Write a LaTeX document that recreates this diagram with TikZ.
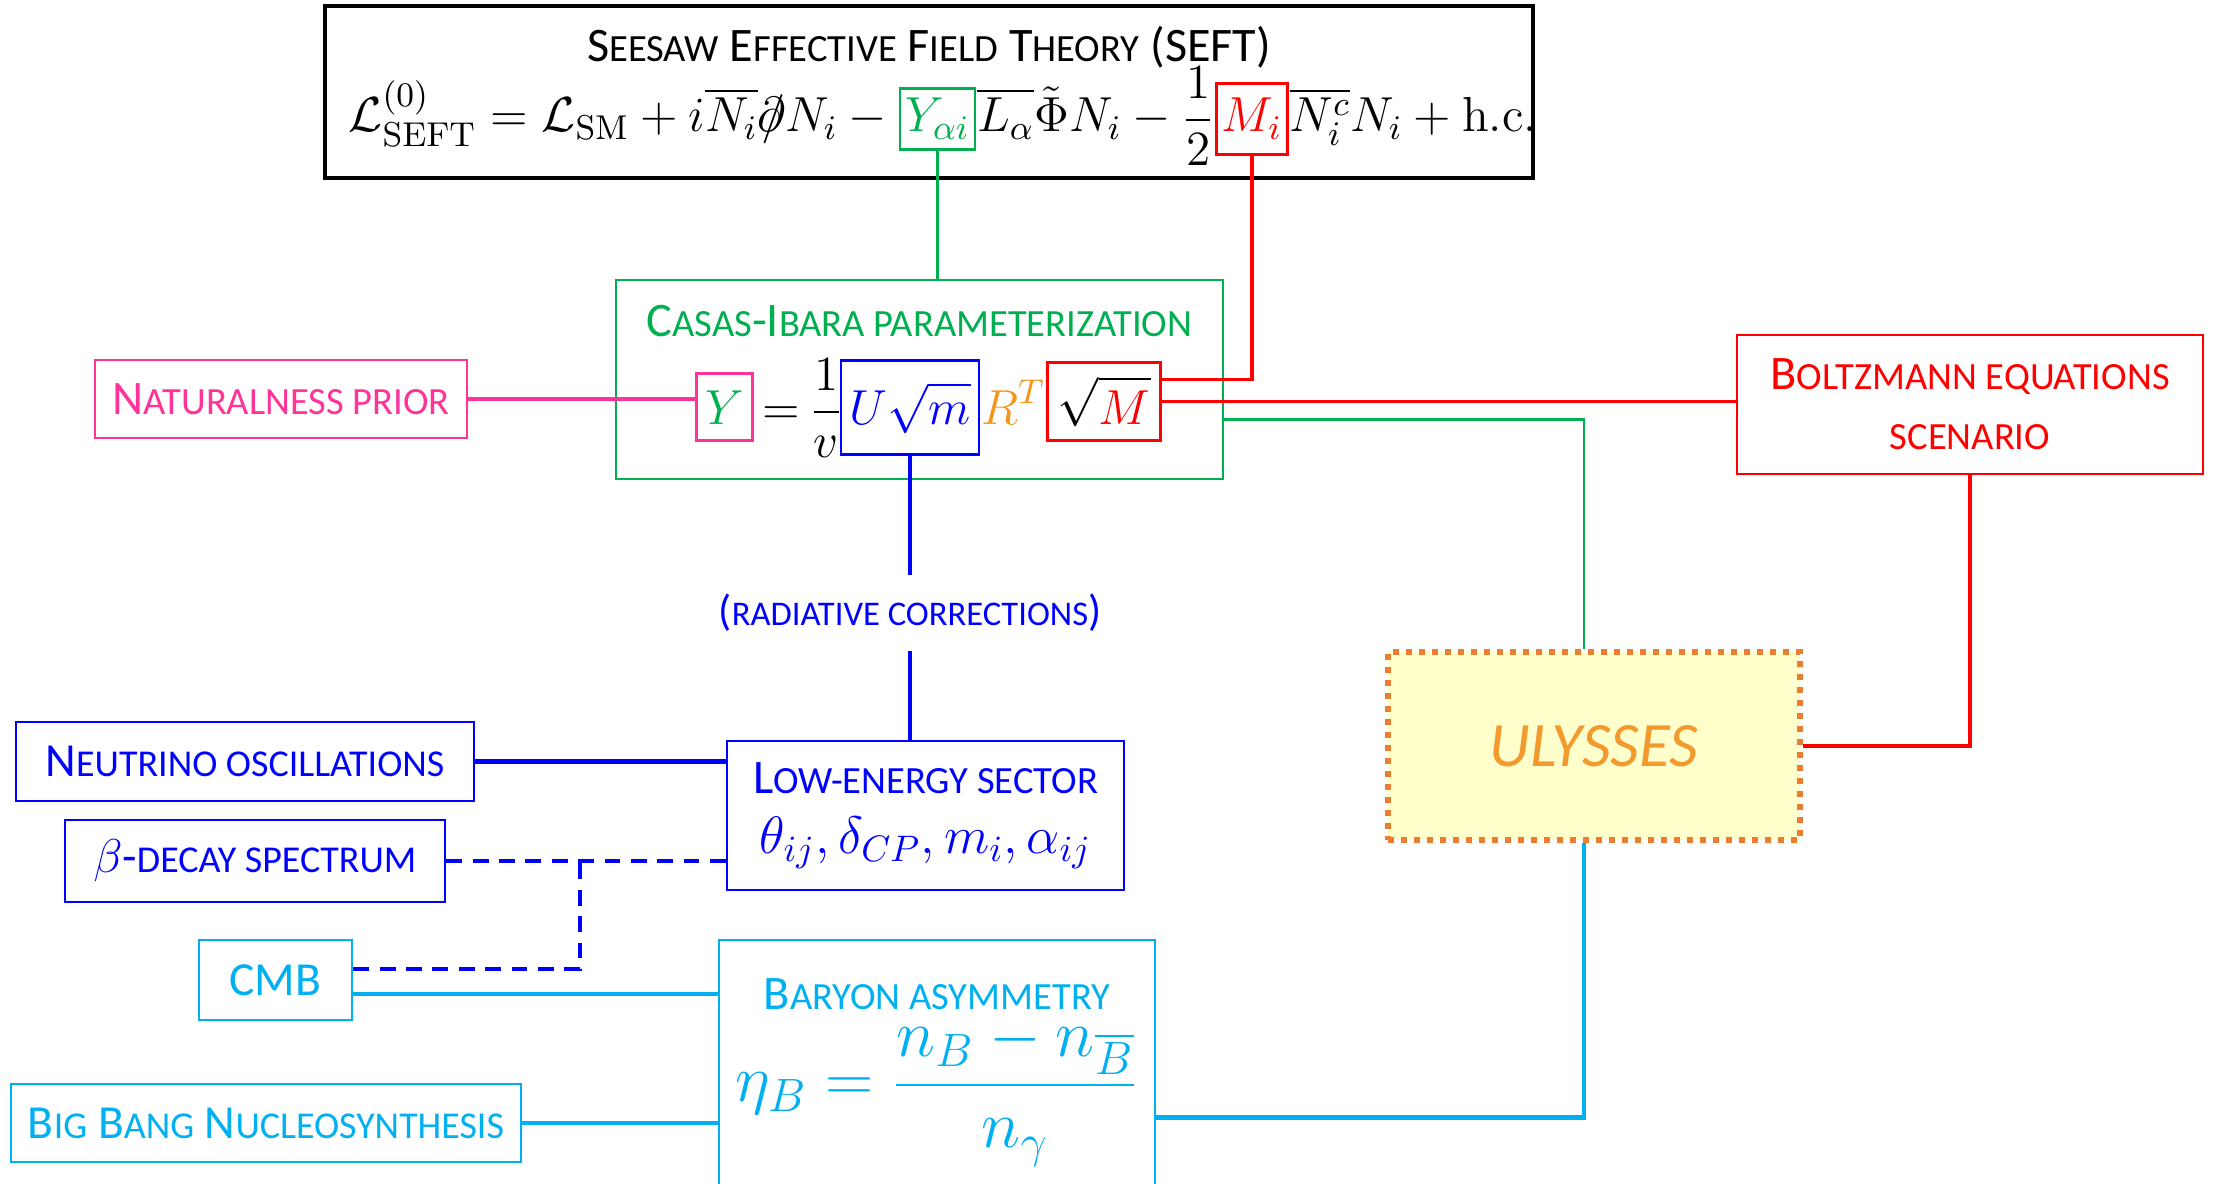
\RequirePackage{fix-cm}
\documentclass[tikz,border=0pt]{standalone}
\usepackage{amsmath,amssymb}
\usepackage[no-math]{fontspec}
\setmainfont{Carlito}
\usetikzlibrary{positioning,calc}
\definecolor{seftgreen}{HTML}{00B050}
\definecolor{seftred}{HTML}{FF0000}
\definecolor{seftblue}{HTML}{0000FF}
\definecolor{seftcyan}{HTML}{00B0F0}
\definecolor{seftpink}{HTML}{FF3399}
\definecolor{seftorange}{HTML}{F7941D}
\definecolor{ulyline}{HTML}{ED7D31}
\definecolor{ulytext}{HTML}{F29A2E}
\definecolor{ulyfill}{HTML}{FFFFCC}
\makeatletter
\newcommand{\smc}[1]{{\dimen@=\f@size pt\dimen@=0.8\dimen@
  \fontsize{\strip@pt\dimen@}{\f@baselineskip}\selectfont\MakeUppercase{#1}}}
\makeatother
\newcommand{\dslash}{{\partial\!\!\!/}}
\tikzset{
  framebox/.style={draw=#1,text=#1,line width=0.8pt,fill=white,
                   align=center,inner sep=3pt,font=\fontsize{13.7}{17}\selectfont},
  headtext/.style={align=center,inner sep=0pt,font=\fontsize{13.7}{17}\selectfont},
  formula/.style={inner sep=0pt,anchor=base west,font=\fontsize{14}{17}\selectfont},
  mathbox/.style={draw=#1,text=#1,line width=0.8pt,inner sep=1.5pt,anchor=base west},
  ulybox/.style={draw=ulyline,fill=ulyfill,text=ulytext,line width=1.7pt,
                 dash pattern=on 1.7pt off 2pt,
                 font=\fontsize{18}{22}\selectfont\itshape},
  link/.style={draw=#1,line width=1pt},
  dashlink/.style={draw=seftblue,line width=1.1pt,dash pattern=on 4.5pt off 3pt}
}
\begin{document}
\begin{tikzpicture}[x=1cm,y=1cm]
  \useasboundingbox (0,0) rectangle (22.14,-11.84);
  \node[framebox=black,line width=0.9pt,minimum width=12.08cm,minimum height=1.72cm] (seft) at (9.29,-0.92) {};
  \node[headtext] (sefttitle) at (9.29,-0.47) {S\smc{eesaw} E\smc{ffective} F\smc{ield} T\smc{heory} (SEFT)};
  \begin{scope}[every node/.append style={font=\fontsize{13.85}{17}\selectfont}]
  \node[formula] (lag) at (3.48,-1.32) {$\displaystyle \mathcal{L}^{(0)}_{\mathrm{SEFT}} = \mathcal{L}_{\mathrm{SM}} + i\overline{N_i}\dslash N_i - {}$};
  \node[formula,mathbox=seftgreen,minimum height=0.61cm] (yai) at (lag.base east) {$\displaystyle Y_{\alpha i}$};
  \node[formula] (lagmid) at (yai.base east) {$\displaystyle \overline{L_\alpha}\tilde{\Phi}N_i - \frac{1}{2}$};
  \node[formula,mathbox=seftred,minimum height=0.71cm] (mi) at (lagmid.base east) {$\displaystyle M_i$};
  \node[formula] (lagend) at (mi.base east) {$\displaystyle \overline{N_i^c}N_i + \mathrm{h.c.}$};
  \end{scope}

  \node[framebox=seftgreen,minimum width=6.07cm,minimum height=1.99cm] (casas) at (9.195,-3.795) {};
  \node[headtext,text=seftgreen] (casastitle) at (9.195,-3.21) {C\smc{asas}-I\smc{bara parameterization}};
  \node[formula,mathbox=seftpink,text=seftgreen,minimum width=0.56cm,minimum height=0.67cm] (ybox) at (6.95,-4.24) {$\displaystyle Y$};
  \node[formula] (oneoverv) at (ybox.base east) {$\nulldelimiterspace=0pt\displaystyle \,=\frac{1}{v}$};
  \node[formula,mathbox=seftblue,minimum width=1.38cm,minimum height=0.94cm] (usqrtm) at (oneoverv.base east) {$\displaystyle U\sqrt{m}$};
  \node[formula,text=seftorange] (rt) at (usqrtm.base east) {$\displaystyle R^T$};
  \node[formula,mathbox=seftred,text=black,minimum width=1.13cm,minimum height=0.78cm] (sqrtM) at (rt.base east) {$\displaystyle \sqrt{\textcolor{seftred}{M}}$};

  \node[framebox=seftpink,minimum width=3.72cm,minimum height=0.78cm] (natural) at (2.81,-3.99) {N\smc{aturalness prior}};
  \node[framebox=seftred,minimum width=4.66cm,minimum height=1.39cm] (boltz) at (19.70,-4.045) {B\smc{oltzmann equations}\\\smc{scenario}};
  \node[ulybox,minimum width=4.12cm,minimum height=1.88cm] (ulysses) at (15.94,-7.46) {ULYSSES};
  \coordinate (radlevel) at (0,-6.13);
  \node[headtext,text=seftblue,font=\fontsize{12.3}{14}\selectfont,minimum height=0.74cm] (radcorr) at (usqrtm.south |- radlevel) {(\smc{radiative corrections})};

  \node[framebox=seftblue,minimum width=3.97cm,minimum height=1.49cm] (lowe) at (9.255,-8.155) {L\smc{ow-energy sector}\\{\fontsize{15}{18}\selectfont$\theta_{ij}, \delta_{CP}, m_i, \alpha_{ij}$}};
  \node[framebox=seftblue,font=\fontsize{13.5}{16}\selectfont,minimum width=4.58cm,minimum height=0.79cm] (nuosc) at (2.45,-7.615) {N\smc{eutrino oscillations}};
  \node[framebox=seftblue,font=\fontsize{13.5}{16}\selectfont,minimum width=3.80cm,minimum height=0.82cm] (betadecay) at (2.55,-8.61) {$\beta$-\smc{decay spectrum}};
  \node[framebox=seftcyan,font=\fontsize{13.5}{16}\selectfont,minimum width=1.53cm,minimum height=0.80cm] (cmb) at (2.755,-9.80) {CMB};
  \node[framebox=seftcyan,font=\fontsize{13.5}{16}\selectfont,minimum width=5.10cm,minimum height=0.78cm] (bbn) at (2.66,-11.23) {B\smc{ig} B\smc{ang} N\smc{ucleosynthesis}};
  \node[framebox=seftcyan,minimum width=4.36cm,minimum height=2.55cm] (baryon) at (9.37,-10.675) {};
  \node[headtext,text=seftcyan] (baryontitle) at (9.37,-9.94) {B\smc{aryon asymmetry}};
  \node[inner sep=0pt,text=seftcyan,font=\fontsize{19}{23}\selectfont] (etab) at (9.37,-10.92) {$\displaystyle \eta_B = \frac{n_B - n_{\overline{B}}}{n_\gamma}$};

  \draw[link=seftgreen] (yai.south) -- (yai.south |- casas.north);
  \draw[link=seftred] (mi.south) |- ($(sqrtM.east)+(0,0.22)$);
  \draw[link=seftred] (sqrtM.east) -- (sqrtM.east -| boltz.west);
  \draw[link=seftgreen,line width=0.7pt] ($(casas.east)+(0,-0.4)$) -| ($(ulysses.north)+(-0.1,0)$);
  \draw[link=seftpink] (natural.east) -- (natural.east -| ybox.west);
  \draw[link=seftblue] (usqrtm.south) -- (radcorr.north);
  \draw[link=seftblue] (radcorr.south) -- (radcorr.south |- lowe.north);
  \draw[link=seftblue,line width=1.2pt] (nuosc.east) -- (nuosc.east -| lowe.west);
  \draw[dashlink] (betadecay.east) -- (betadecay.east -| lowe.west);
  \coordinate (dashjoin) at (5.80,-8.61);
  \draw[dashlink] ($(cmb.east)+(0,0.11)$) -| (dashjoin);
  \draw[link=seftcyan,line width=1.2pt] ($(cmb.east)+(0,-0.14)$) -- ($(cmb.east -| baryon.west)+(0,-0.14)$);
  \draw[link=seftcyan,line width=1.2pt] (bbn.east) -- (bbn.east -| baryon.west);
  \draw[link=seftcyan,line width=1.2pt] ($(baryon.east)+(0,-0.5)$) -| ($(ulysses.south)+(-0.1,0)$);
  \draw[link=seftred,line width=1.2pt] (boltz.south) |- (ulysses.east);
\end{tikzpicture}
\end{document}
